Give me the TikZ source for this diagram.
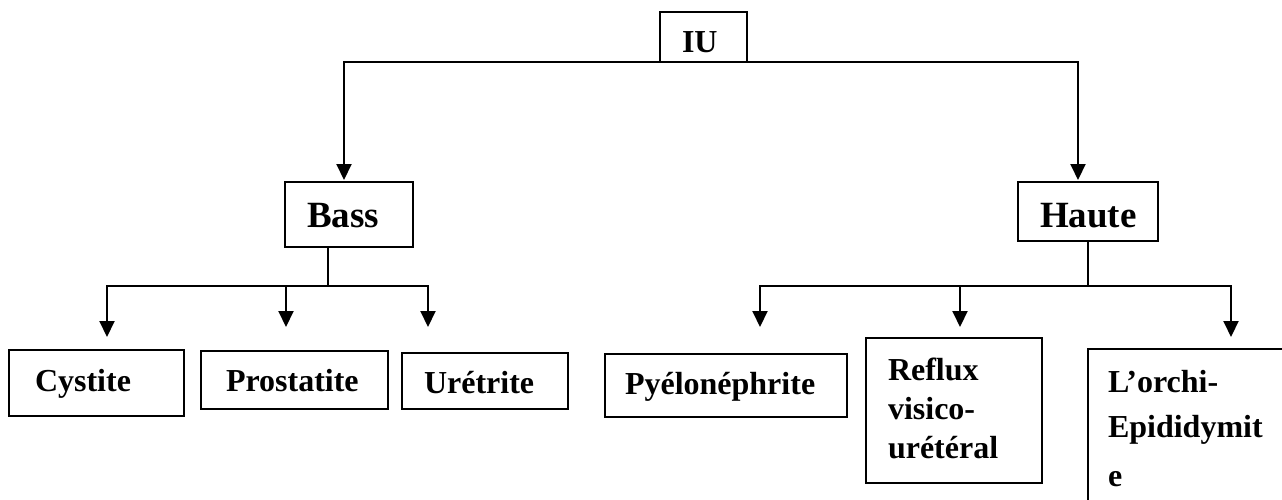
\documentclass[tikz,border=0pt]{standalone}
\usepackage{fontspec}
\setmainfont{Liberation Serif}
\usetikzlibrary{arrows.meta}
\begin{document}
\begin{tikzpicture}[x=1pt,y=-1pt,
  box/.style={draw,line width=1.8pt,inner sep=0pt,outer sep=0pt},
  lbl/.style={anchor=base west,inner sep=0pt,outer sep=0pt,font=\bfseries\fontsize{32}{38}\selectfont},
  big/.style={anchor=base west,inner sep=0pt,outer sep=0pt,font=\bfseries\fontsize{37}{44}\selectfont},
  conn/.style={line width=2pt},
  arr/.style={conn,-{Triangle[length=16pt,width=15pt]}}]
\path[use as bounding box] (0,0) rectangle (1282,499);
\clip (0,0) rectangle (1282,499);
% boxes
\node[box,minimum width=87pt,minimum height=50pt] (bIU) at (703.5,37) {};
\node[box,minimum width=128pt,minimum height=65pt] (bBass) at (349,214.5) {};
\node[box,minimum width=140pt,minimum height=59pt] (bHaute) at (1088,211.5) {};
\node[box,minimum width=175pt,minimum height=66pt] (bCys) at (96.5,383) {};
\node[box,minimum width=187pt,minimum height=58pt] (bPro) at (294.5,380) {};
\node[box,minimum width=166pt,minimum height=56pt] (bUre) at (485,381) {};
\node[box,minimum width=242pt,minimum height=63pt] (bPye) at (726,385.5) {};
\node[box,minimum width=176pt,minimum height=145pt] (bRef) at (954,410.5) {};
\node[box,minimum width=212pt,minimum height=171pt] (bOrc) at (1194,434.5) {};
% texts
\node[lbl] (tIU) at (682,52) {IU};
\node[big] (tBass) at (307,227) {Bass};
\node[big] (tHaute) at (1040,227) {Haute};
\node[lbl] (tCys) at (35,391) {Cystite};
\node[lbl] (tPro) at (226,391) {Prostatite};
\node[lbl] (tUre) at (424,393) {Urétrite};
\node[lbl] (tPye) at (625,394) {Pyélonéphrite};
\node[lbl] (tRef1) at (888,380) {Reflux};
\node[lbl] (tRef2) at (888,419) {visico-};
\node[lbl] (tRef3) at (888,458) {urétéral};
\node[lbl] (tOrc1) at (1108,392) {L’orchi-};
\node[lbl] (tOrc2) at (1108,437) {Epididymit};
\node[lbl] (tOrc3) at (1108,486) {e};
% connector end points
\coordinate (aBass) at (344,180);
\coordinate (aHaute) at (1078,180);
\coordinate (jB) at (328,286);
\coordinate (jH) at (1088,286);
\coordinate (aCys) at (107,337);
\coordinate (aPro) at (286,327);
\coordinate (aUre) at (428,327);
\coordinate (aPye) at (760,327);
\coordinate (aRef) at (960,327);
\coordinate (aOrc) at (1231,337);
% connectors
\draw[arr] (bIU.south west) -| (aBass);
\draw[arr] (bIU.south east) -| (aHaute);
\draw[conn] (jB |- bBass.south) -- (jB);
\draw[arr] (jB) -| (aCys);
\draw[arr] (jB) -| (aPro);
\draw[arr] (jB) -| (aUre);
\draw[conn] (jH |- bHaute.south) -- (jH);
\draw[arr] (jH) -| (aPye);
\draw[arr] (jH) -| (aRef);
\draw[arr] (jH) -| (aOrc);
\end{tikzpicture}
\end{document}
